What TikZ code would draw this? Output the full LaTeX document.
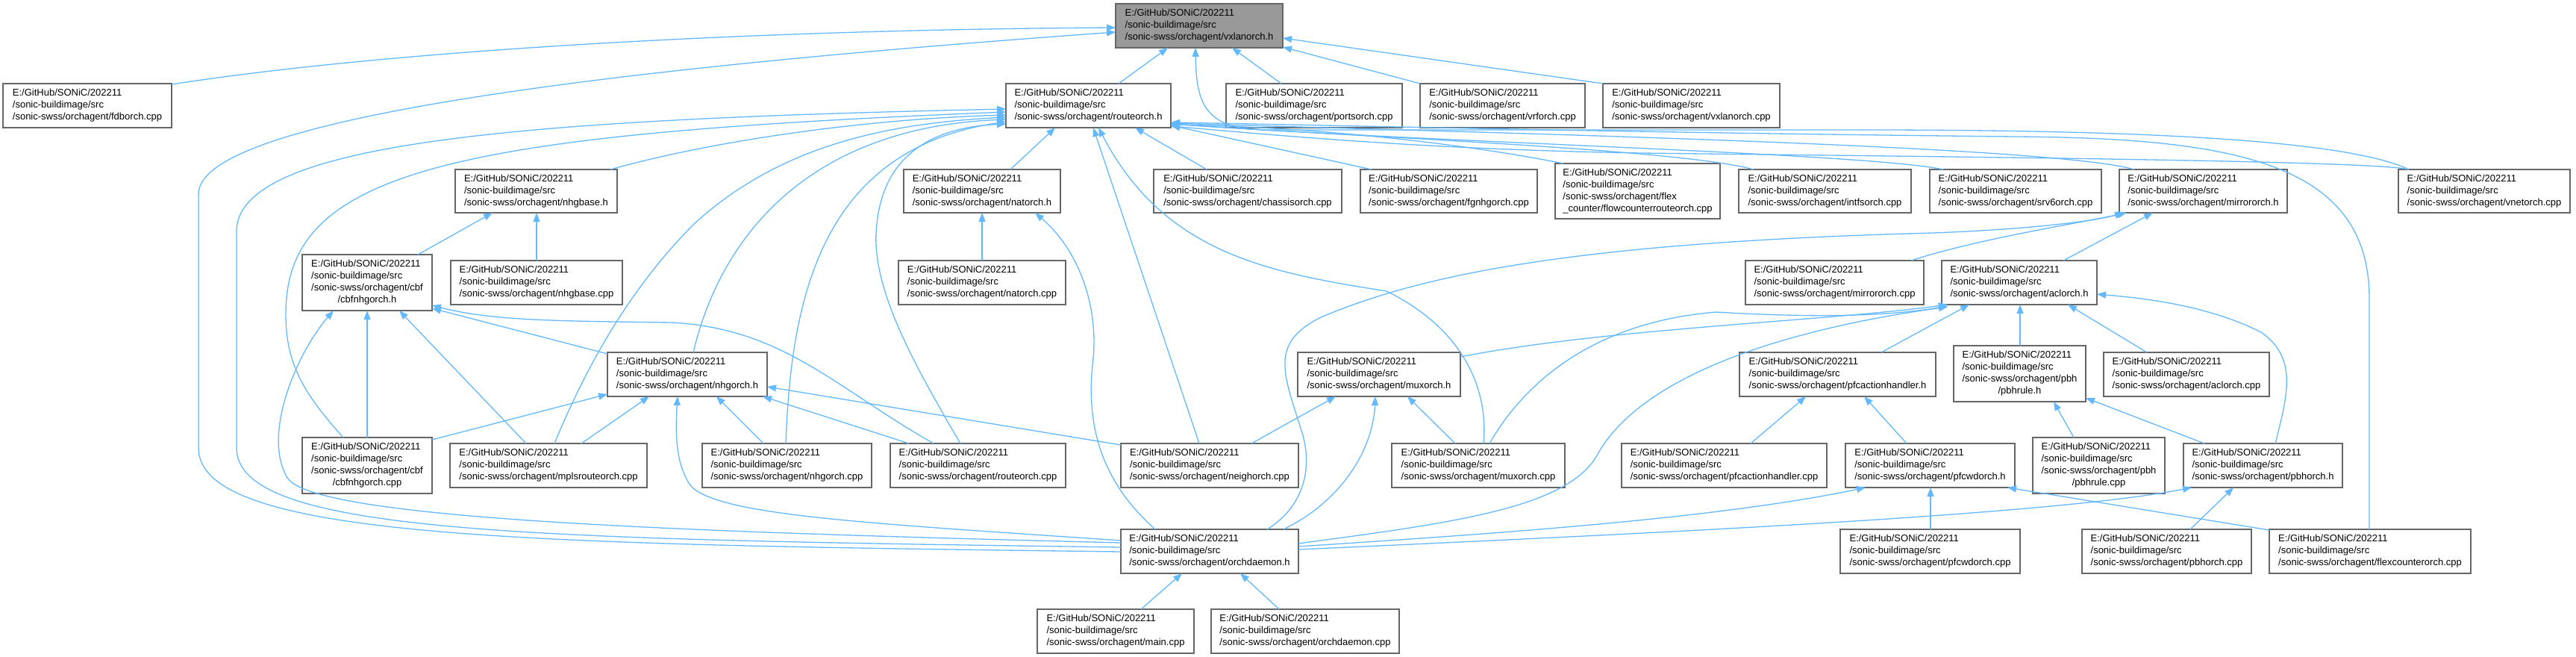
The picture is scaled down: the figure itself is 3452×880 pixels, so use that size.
\documentclass[tikz,border=0pt]{standalone}
\usepackage{fontspec}
\setmainfont{Liberation Sans}
\usetikzlibrary{arrows.meta,calc}
\definecolor{edgeblue}{HTML}{63B8FF}
\definecolor{boxgray}{HTML}{666666}
\definecolor{rootfill}{HTML}{999999}
\tikzset{
  box/.style={draw=boxgray, line width=1.5pt, fill=white, inner sep=0pt, outer sep=0pt,
    font=\fontsize{13}{16}\selectfont},
  rootbox/.style={box, fill=rootfill},
  edge/.style={draw=edgeblue, line width=1.3pt, -{Triangle[length=12pt,width=9pt]}}
}
\newcommand{\Lthree}[1]{\begin{tabular}{@{}l@{}}E:/GitHub/SONiC/202211\\/sonic-buildimage/src\\/sonic-swss/orchagent/#1\end{tabular}}
\newcommand{\Lfour}[2]{\begin{tabular}{@{}l@{}}E:/GitHub/SONiC/202211\\/sonic-buildimage/src\\/sonic-swss/orchagent/#1\\\multicolumn{1}{@{}c@{}}{#2}\end{tabular}}
\newcommand{\fnode}[7][box]{%
  \expandafter\xdef\csname NX#2\endcsname{#3}%
  \expandafter\xdef\csname NY#2\endcsname{#4}%
  \pgfmathsetmacro{\fnW}{#5-#3}\pgfmathsetmacro{\fnH}{#6-#4}%
  \pgfmathsetmacro{\fnX}{(#3+#5)/2}\pgfmathsetmacro{\fnY}{(#4+#6)/2}%
  \node[#1, minimum width=\fnW pt, minimum height=\fnH pt] (#2) at (\fnX,\fnY) {#7};}
\newcommand{\PP}[3]{($(#1.north west)+(\the\numexpr#2-\csname NX#1\endcsname\relax,\the\numexpr#3-\csname NY#1\endcsname\relax)$)}
\newcommand{\E}[7]{\edef\Etmp{\noexpand\draw[edge] \PP{#1}{#2}{#3} \unexpanded{#7} \PP{#4}{#5}{#6};}\Etmp}
\begin{document}
\begin{tikzpicture}[x=1pt,y=-1pt]
\useasboundingbox (0,0) rectangle (3452,880);
% nodes
\fnode[rootbox]{vx}{1495}{5}{1719}{64}{\Lthree{vxlanorch.h}}
\fnode{fdb}{4}{112}{230}{171}{\Lthree{fdborch.cpp}}
\fnode{ro}{1348}{112}{1569}{171}{\Lthree{routeorch.h}}
\fnode{ports}{1643}{112}{1879}{171}{\Lthree{portsorch.cpp}}
\fnode{vrf}{1903}{112}{2124}{171}{\Lthree{vrforch.cpp}}
\fnode{vxcpp}{2148}{112}{2385}{171}{\Lthree{vxlanorch.cpp}}
\fnode{nhgbase}{610}{227}{827}{285}{\Lthree{nhgbase.h}}
\fnode{nat}{1211}{227}{1421}{285}{\Lthree{natorch.h}}
\fnode{chassis}{1546}{227}{1798}{285}{\Lthree{chassisorch.cpp}}
\fnode{fgnhg}{1823}{227}{2060}{285}{\Lthree{fgnhgorch.cpp}}
\fnode{flowc}{2084}{219}{2305}{293}{\Lfour{flex}{\_counter/flowcounterrouteorch.cpp}}
\fnode{intfs}{2330}{227}{2561}{285}{\Lthree{intfsorch.cpp}}
\fnode{srv6}{2586}{227}{2816}{285}{\Lthree{srv6orch.cpp}}
\fnode{mirh}{2840}{227}{3065}{285}{\Lthree{mirrororch.h}}
\fnode{vnet}{3214}{227}{3444}{285}{\Lthree{vnetorch.cpp}}
\fnode{cbfh}{405}{341}{579}{416}{\Lfour{cbf}{/cbfnhgorch.h}}
\fnode{nhgbasecpp}{604}{349}{834}{408}{\Lthree{nhgbase.cpp}}
\fnode{natcpp}{1204}{349}{1428}{408}{\Lthree{natorch.cpp}}
\fnode{mircpp}{2339}{349}{2578}{408}{\Lthree{mirrororch.cpp}}
\fnode{aclh}{2602}{349}{2810}{408}{\Lthree{aclorch.h}}
\fnode{nhgh}{814}{472}{1028}{531}{\Lthree{nhgorch.h}}
\fnode{muxh}{1739}{472}{1957}{531}{\Lthree{muxorch.h}}
\fnode{pfcah}{2331}{472}{2594}{531}{\Lthree{pfcactionhandler.h}}
\fnode{pbhruleh}{2618}{463}{2795}{538}{\Lfour{pbh}{/pbhrule.h}}
\fnode{aclcpp}{2819}{472}{3041}{531}{\Lthree{aclorch.cpp}}
\fnode{cbfcpp}{405}{586}{579}{661}{\Lfour{cbf}{/cbfnhgorch.cpp}}
\fnode{mpls}{603}{594}{867}{653}{\Lthree{mplsrouteorch.cpp}}
\fnode{nhgcpp}{941}{594}{1168}{653}{\Lthree{nhgorch.cpp}}
\fnode{rocpp}{1193}{594}{1428}{653}{\Lthree{routeorch.cpp}}
\fnode{neigh}{1502}{594}{1740}{653}{\Lthree{neighorch.cpp}}
\fnode{muxcpp}{1865}{594}{2097}{653}{\Lthree{muxorch.cpp}}
\fnode{pfcacpp}{2173}{594}{2448}{653}{\Lthree{pfcactionhandler.cpp}}
\fnode{pfcwdh}{2473}{594}{2700}{653}{\Lthree{pfcwdorch.h}}
\fnode{pbhrulecpp}{2724}{586}{2901}{661}{\Lfour{pbh}{/pbhrule.cpp}}
\fnode{pbhh}{2926}{594}{3139}{653}{\Lthree{pbhorch.h}}
\fnode{od}{1502}{709}{1740}{768}{\Lthree{orchdaemon.h}}
\fnode{pfcwdcpp}{2466}{709}{2707}{768}{\Lthree{pfcwdorch.cpp}}
\fnode{pbhcpp}{2790}{709}{3017}{768}{\Lthree{pbhorch.cpp}}
\fnode{flex}{3041}{709}{3311}{768}{\Lthree{flexcounterorch.cpp}}
\fnode{main}{1390}{816}{1600}{875}{\Lthree{main.cpp}}
\fnode{odcpp}{1623}{816}{1875}{875}{\Lthree{orchdaemon.cpp}}
% edges to vxlanorch.h
\E{fdb}{230}{113}{vx}{1495}{37}{.. controls (520,68) and (1000,40) ..}
\E{od}{1502}{739}{vx}{1495}{43}{.. controls (700,729) and (266,722) .. (266,600) -- (266,260) .. controls (266,170) and (700,100) ..}
\E{ro}{1499}{112}{vx}{1565}{64}{--}
\E{ports}{1717}{112}{vx}{1651}{64}{--}
\E{vrf}{1903}{112}{vx}{1719}{63}{--}
\E{vxcpp}{2148}{112}{vx}{1719}{51}{--}
\E{vnet}{3228}{227}{vx}{1602}{64}{.. controls (3150,190) and (2900,174) .. (2500,174) -- (1700,174) .. controls (1615,174) and (1603,140) ..}
% edges to routeorch.h
\E{nhgbase}{818}{227}{ro}{1348}{154}{.. controls (950,190) and (1150,160) ..}
\E{od}{1502}{733}{ro}{1348}{146}{.. controls (700,722) and (317,715) .. (317,600) -- (317,310) .. controls (317,190) and (700,160) ..}
\E{cbfcpp}{460}{586}{ro}{1348}{150}{.. controls (400,520) and (383,480) .. (383,420) .. controls (383,230) and (600,180) ..}
\E{mpls}{743}{594}{ro}{1348}{157}{.. controls (790,480) and (850,380) .. (930,300) .. controls (1050,190) and (1200,165) ..}
\E{nhgh}{929}{472}{ro}{1348}{160}{.. controls (970,300) and (1100,170) ..}
\E{nhgcpp}{1053}{594}{ro}{1348}{163}{.. controls (1060,400) and (1100,200) ..}
\E{rocpp}{1287}{594}{ro}{1348}{166}{.. controls (1220,480) and (1165,380) .. (1175,300) .. controls (1185,200) and (1260,170) ..}
\E{chassis}{1617}{227}{ro}{1521}{171}{--}
\E{fgnhg}{1838}{227}{ro}{1569}{168}{--}
\E{flowc}{2095}{219}{ro}{1569}{167}{.. controls (1950,190) and (1750,170) ..}
\E{intfs}{2350}{227}{ro}{1569}{166}{.. controls (2250,200) and (1850,185) ..}
\E{srv6}{2604}{227}{ro}{1569}{166}{.. controls (2500,205) and (1900,190) ..}
\E{mirh}{2860}{227}{ro}{1569}{165}{.. controls (2750,195) and (2000,178) ..}
\E{flex}{3175}{709}{ro}{1569}{164}{-- (3175,400) .. controls (3175,220) and (3000,185) .. (2700,183) .. controls (2200,178) and (1800,168) ..}
\E{vnet}{3228}{227}{ro}{1569}{169}{.. controls (3180,215) and (2600,210) .. (2200,205) .. controls (1900,200) and (1700,180) ..}
\E{neigh}{1607}{594}{ro}{1465}{171}{--}
\E{muxcpp}{1988}{594}{ro}{1472}{171}{.. controls (1995,520) and (1960,440) .. (1858,390) .. controls (1700,365) and (1560,340) ..}
\E{nat}{1354}{227}{ro}{1414}{171}{--}
% natorch.h
\E{natcpp}{1316}{349}{nat}{1316}{285}{--}
\E{od}{1548}{709}{nat}{1387}{285}{.. controls (1470,640) and (1455,560) .. (1465,480) .. controls (1472,400) and (1440,330) ..}
% nhgbase.h
\E{cbfh}{560}{341}{nhgbase}{660}{285}{--}
\E{nhgbasecpp}{719}{349}{nhgbase}{719}{285}{--}
% cbfnhgorch.h
\E{cbfcpp}{492}{586}{cbfh}{492}{416}{--}
\E{od}{1502}{727}{cbfh}{447}{416}{.. controls (900,712) and (420,695) .. (385,640) .. controls (350,580) and (400,470) ..}
\E{mpls}{705}{594}{cbfh}{535}{416}{--}
\E{nhgh}{814}{474}{cbfh}{579}{413}{--}
\E{rocpp}{1251}{594}{cbfh}{579}{409}{.. controls (1120,520) and (1050,440) .. (900,432) .. controls (750,430) and (660,430) ..}
% nhgorch.h
\E{cbfcpp}{579}{589}{nhgh}{814}{528}{--}
\E{mpls}{779}{594}{nhgh}{870}{531}{--}
\E{od}{1502}{724}{nhgh}{908}{531}{.. controls (1150,700) and (960,690) .. (925,650) .. controls (905,620) and (905,580) ..}
\E{nhgcpp}{1023}{594}{nhgh}{960}{531}{--}
\E{rocpp}{1218}{594}{nhgh}{1022}{531}{--}
\E{neigh}{1502}{596}{nhgh}{1028}{518}{--}
% muxorch.h
\E{neigh}{1677}{594}{muxh}{1790}{531}{--}
\E{od}{1720}{709}{muxh}{1843}{531}{.. controls (1800,670) and (1840,600) ..}
\E{muxcpp}{1950}{594}{muxh}{1886}{531}{--}
% aclorch.h
\E{muxh}{1957}{478}{aclh}{2610}{408}{.. controls (2150,440) and (2450,430) ..}
\E{muxcpp}{1996}{594}{aclh}{2610}{410}{.. controls (2050,500) and (2150,430) .. (2300,418) .. controls (2420,425) and (2520,425) ..}
\E{od}{1740}{728}{aclh}{2610}{411}{.. controls (1950,700) and (2100,680) .. (2140,610) .. controls (2200,500) and (2400,440) ..}
\E{pfcah}{2521}{472}{aclh}{2639}{408}{--}
\E{pbhruleh}{2707}{463}{aclh}{2707}{408}{--}
\E{aclcpp}{2877}{472}{aclh}{2771}{408}{--}
\E{pbhh}{3049}{594}{aclh}{2810}{394}{.. controls (3065,530) and (3080,480) .. (3030,445) .. controls (2960,410) and (2880,400) ..}
% mirrororch.h
\E{mircpp}{2561}{349}{mirh}{2850}{285}{.. controls (2650,320) and (2780,300) ..}
\E{od}{1698}{709}{mirh}{2846}{285}{.. controls (1745,680) and (1760,630) .. (1745,580) .. controls (1720,500) and (1700,460) .. (1770,425) .. controls (1900,370) and (2100,325) .. (2590,312) .. controls (2700,308) and (2800,298) ..}
\E{aclh}{2765}{349}{mirh}{2885}{285}{--}
% pfcactionhandler.h
\E{pfcacpp}{2346}{594}{pfcah}{2420}{531}{--}
\E{pfcwdh}{2555}{594}{pfcah}{2498}{531}{--}
% pbhrule.h
\E{pbhrulecpp}{2779}{586}{pbhruleh}{2752}{538}{--}
\E{pbhh}{2954}{594}{pbhruleh}{2795}{533}{--}
% pfcwdorch.h
\E{pfcwdcpp}{2587}{709}{pfcwdh}{2587}{653}{--}
\E{od}{1740}{732}{pfcwdh}{2500}{653}{.. controls (2000,715) and (2300,695) ..}
\E{flex}{3041}{710}{pfcwdh}{2690}{653}{--}
% pbhorch.h
\E{od}{1740}{736}{pbhh}{2937}{653}{.. controls (2200,715) and (2750,690) ..}
\E{pbhcpp}{2935}{709}{pbhh}{2993}{653}{--}
% orchdaemon.h
\E{main}{1529}{816}{od}{1584}{768}{--}
\E{odcpp}{1714}{816}{od}{1662}{768}{--}
\end{tikzpicture}
\end{document}
